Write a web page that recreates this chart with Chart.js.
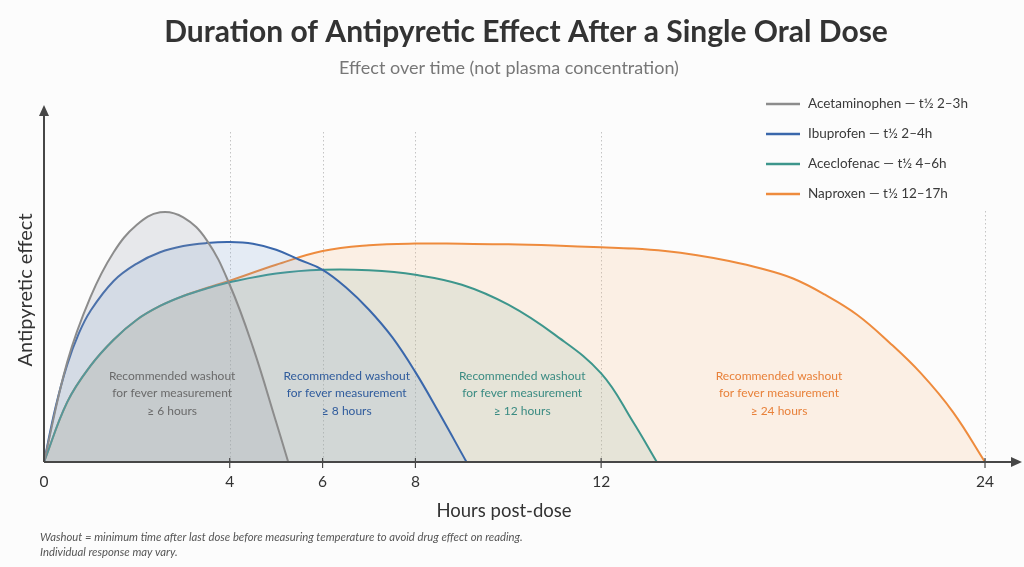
<!DOCTYPE html>
<html lang="en">
<head>
    <meta charset="UTF-8">
    <title>Duration of Antipyretic Effect</title>
    <script src="https://cdn.jsdelivr.net/npm/chart.js"></script>
    <style>
        body { margin: 0; background: #fcfcfc; }
        canvas { display: block; }
    </style>
</head>
<body>
    <canvas id="effectChart" width="1024" height="567"></canvas>

    <script>
        // values (effect: 100 = acetaminophen peak)
        const hourTicks = [0, 4, 6, 8, 12, 24];
        const drugLabels = ['Acetaminophen — t½ 2–3h', 'Ibuprofen — t½ 2–4h', 'Aceclofenac — t½ 4–6h', 'Naproxen — t½ 12–17h'];
        const washoutText = ['≥ 6 hours', '≥ 8 hours', '≥ 12 hours', '≥ 24 hours'];

        const acetaminophenHours = [0, 0.5, 1, 1.5, 2, 2.5, 3, 3.5, 4, 4.5, 5, 5.26];
        const acetaminophenEffect = [0, 40, 66, 84, 95, 100, 98, 89, 71, 46, 16, 0];

        const ibuprofenHours = [0, 0.25, 0.5, 0.75, 1, 1.5, 2, 2.5, 3, 3.5, 4, 4.5, 5, 5.5, 6, 6.5, 7, 7.5, 8, 8.5, 9.1];
        const ibuprofenEffect = [0, 22, 39, 51.5, 60.5, 72.5, 79.5, 84, 86.5, 87.7, 88.1, 87.4, 85, 81, 77, 70, 61, 50, 36, 20, 0];

        const aceclofenacHours = [0, 0.5, 1, 1.5, 2, 2.5, 3, 3.5, 4, 5, 6, 7, 8, 9, 10, 11, 12, 13, 13.74];
        const aceclofenacEffect = [0, 24, 38.5, 49, 57, 62.5, 66.5, 69.5, 72, 75.5, 77, 76.8, 75, 71, 63, 51, 35.5, 16, 0];

        const naproxenHours = [0, 0.5, 1, 1.5, 2, 2.5, 3, 3.5, 4, 5, 6, 7, 8, 9, 10, 11, 12, 13, 14, 15, 16, 17, 18, 19, 20, 21, 22, 23, 24];
        const naproxenEffect = [0, 24, 38.5, 49, 57, 62.5, 66.5, 69.7, 72.6, 79, 84.5, 86.8, 87.5, 87.4, 87.2, 86.7, 86, 85.5, 84.5, 82.8, 80.5, 77.5, 73.5, 67, 59, 48, 35.5, 20, 0];

        const lineColors = ['#8c8c8c', '#3a67ab', '#3d968c', '#ee8b3d'];
        const fillColors = ['rgba(150,155,168,0.20)', 'rgba(110,155,210,0.17)', 'rgba(130,180,160,0.17)', 'rgba(248,175,115,0.17)'];
        const textColors = ['#6a6a6a', '#2f5b9c', '#3a8b82', '#e8813a'];
        const FONT = 'Lato, "Open Sans", sans-serif';

        // hours after 12 are drawn compressed, as in the original
        const squeeze = 0.689;
        function warp(h) { return h <= 12 ? h : 12 + (h - 12) * squeeze; }
        function unwarp(w) { return w <= 12 ? w : 12 + (w - 12) / squeeze; }

        class HoursScale extends Chart.LinearScale {
            getPixelForValue(v) {
                const a = warp(this.min), b = warp(this.max);
                return this.left + this.width * (warp(v) - a) / (b - a);
            }
            getValueForPixel(p) {
                const a = warp(this.min), b = warp(this.max);
                return unwarp(a + (p - this.left) / this.width * (b - a));
            }
        }
        HoursScale.id = 'hours';
        HoursScale.defaults = Chart.LinearScale.defaults;
        Chart.register(HoursScale);

        function points(hours, vals) {
            return hours.map((h, i) => ({ x: h, y: vals[i] }));
        }

        const series = [
            points(acetaminophenHours, acetaminophenEffect),
            points(ibuprofenHours, ibuprofenEffect),
            points(aceclofenacHours, aceclofenacEffect),
            points(naproxenHours, naproxenEffect)
        ];

        const decorations = {
            id: 'decorations',
            beforeDraw(chart) {
                const ctx = chart.ctx;
                ctx.save();
                ctx.fillStyle = '#fcfcfc';
                ctx.fillRect(0, 0, chart.width, chart.height);
                ctx.restore();
            },
            beforeDatasetsDraw(chart) {
                const ctx = chart.ctx;
                const x = chart.scales.x, y = chart.scales.y;
                const base = y.getPixelForValue(0);
                ctx.save();
                ctx.strokeStyle = '#c4c4c4';
                ctx.lineWidth = 1;
                ctx.setLineDash([1.5, 2.5]);
                hourTicks.forEach(h => {
                    if (h === 0) return;
                    const px = Math.round(x.getPixelForValue(h)) + 0.5;
                    const top = h === 24 ? 211 : 132;
                    ctx.beginPath();
                    ctx.moveTo(px, top);
                    ctx.lineTo(px, base);
                    ctx.stroke();
                });
                ctx.restore();
            },
            afterDatasetsDraw(chart) {
                const ctx = chart.ctx;
                const x = chart.scales.x, y = chart.scales.y;
                const x0 = x.getPixelForValue(0), base = y.getPixelForValue(0);
                const top = chart.chartArea.top;
                ctx.save();

                // washout notes inside each area
                const noteHours = [2.76, 6.52, 10.3, 17.56];
                ctx.font = '12px ' + FONT;
                ctx.textAlign = 'center';
                ctx.textBaseline = 'middle';
                noteHours.forEach((h, i) => {
                    const px = x.getPixelForValue(h);
                    ctx.fillStyle = textColors[i];
                    ctx.fillText('Recommended washout', px, 376);
                    ctx.fillText('for fever measurement', px, 393);
                    ctx.fillText(washoutText[i], px, 411);
                });

                // axes with arrows
                ctx.strokeStyle = '#474747';
                ctx.fillStyle = '#474747';
                ctx.lineWidth = 2;
                ctx.beginPath();
                ctx.moveTo(x0, base);
                ctx.lineTo(x0, top + 8);
                ctx.moveTo(x0, base);
                ctx.lineTo(1014, base);
                ctx.stroke();
                ctx.beginPath();
                ctx.moveTo(x0, top);
                ctx.lineTo(x0 - 5, top + 11);
                ctx.lineTo(x0 + 5, top + 11);
                ctx.closePath();
                ctx.fill();
                ctx.beginPath();
                ctx.moveTo(1022, base);
                ctx.lineTo(1011, base - 5);
                ctx.lineTo(1011, base + 5);
                ctx.closePath();
                ctx.fill();

                // ticks and tick labels
                ctx.lineWidth = 1.2;
                ctx.font = '15.5px ' + FONT;
                ctx.fillStyle = '#333';
                hourTicks.forEach(h => {
                    const px = x.getPixelForValue(h);
                    if (h !== 0) {
                        ctx.beginPath();
                        ctx.moveTo(px, base - 4);
                        ctx.lineTo(px, base + 6);
                        ctx.stroke();
                    }
                    ctx.fillText(String(h), px, 482);
                });

                // axis titles
                ctx.font = '18.5px ' + FONT;
                ctx.fillStyle = '#333';
                ctx.fillText('Hours post-dose', 504, 511);
                ctx.translate(26, 290);
                ctx.rotate(-Math.PI / 2);
                ctx.font = '20px ' + FONT;
                ctx.fillText('Antipyretic effect', 0, 0);
                ctx.restore();

                ctx.save();
                // title block
                ctx.textAlign = 'center';
                ctx.textBaseline = 'middle';
                ctx.fillStyle = '#333';
                ctx.font = 'bold 30px ' + FONT;
                ctx.fillText('Duration of Antipyretic Effect After a Single Oral Dose', 526, 32);
                ctx.fillStyle = '#777';
                ctx.font = '18px ' + FONT;
                ctx.fillText('Effect over time (not plasma concentration)', 509, 68);

                // legend
                ctx.textAlign = 'left';
                ctx.font = '13.5px ' + FONT;
                ctx.lineWidth = 2.5;
                chart.data.datasets.forEach((ds, i) => {
                    const ly = 104 + i * 30;
                    ctx.strokeStyle = ds.borderColor;
                    ctx.beginPath();
                    ctx.moveTo(766, ly);
                    ctx.lineTo(800, ly);
                    ctx.stroke();
                    ctx.fillStyle = '#3a3a3a';
                    ctx.fillText(ds.label, 808, ly);
                });

                // footnote
                ctx.fillStyle = '#555';
                ctx.font = 'italic 11.3px ' + FONT;
                ctx.fillText('Washout = minimum time after last dose before measuring temperature to avoid drug effect on reading.', 40, 537);
                ctx.fillText('Individual response may vary.', 40, 552);
                ctx.restore();
            }
        };

        const ctx = document.getElementById('effectChart').getContext('2d');
        const chart = new Chart(ctx, {
            type: 'line',
            data: {
                datasets: series.map((data, i) => ({
                    label: drugLabels[i],
                    data: data,
                    borderColor: lineColors[i],
                    backgroundColor: fillColors[i],
                    borderWidth: 2,
                    fill: 'origin',
                    pointRadius: 0,
                    tension: 0.4
                }))
            },
            options: {
                responsive: false,
                animation: false,
                layout: { padding: { left: 44, right: 7, top: 105, bottom: 105 } },
                plugins: {
                    legend: { display: false },
                    title: { display: false },
                    tooltip: { enabled: false }
                },
                scales: {
                    x: { type: 'hours', min: 0, max: 25, display: false },
                    y: { type: 'linear', min: 0, max: 143, display: false }
                }
            },
            plugins: [decorations]
        });
    </script>
</body>
</html>
